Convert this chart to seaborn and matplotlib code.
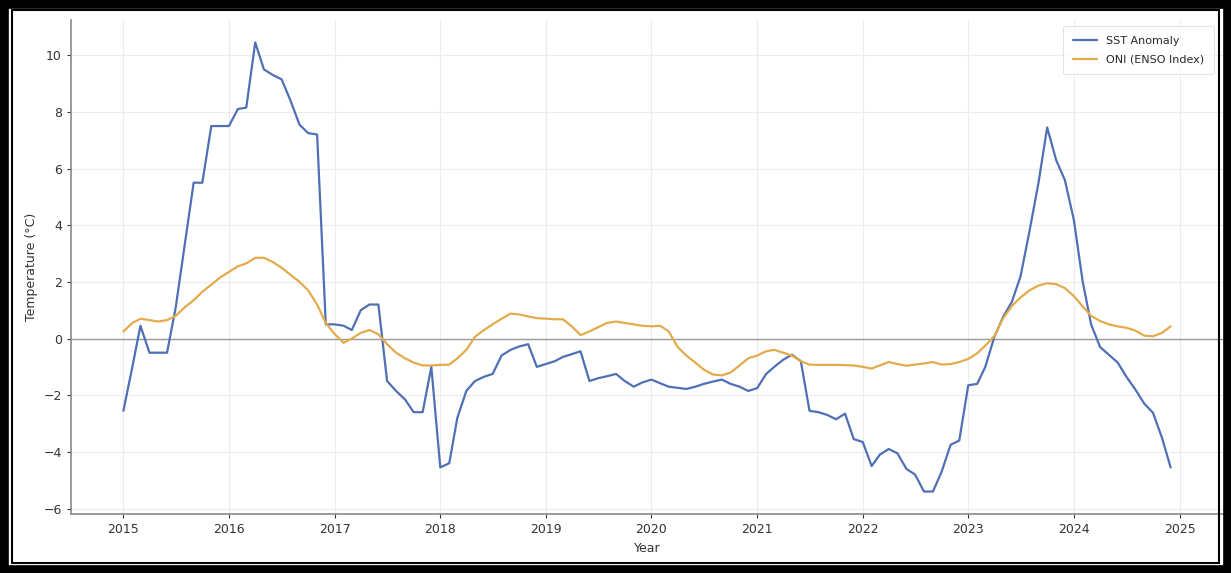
import numpy as np
import pandas as pd
import matplotlib
matplotlib.use("Agg")
import matplotlib.pyplot as plt
import matplotlib.dates as mdates
from matplotlib.patches import Rectangle
import seaborn as sns

# ---- data (monthly, Jan 2015 - Dec 2024) ----
start_month = "2015-01-01"
n_months = 120

sst_anomaly = [
    -2.55, -1.0, 0.45, -0.5, -0.5, -0.5, 1.1, 3.3, 5.5, 5.5, 7.5, 7.5,
    7.5, 8.1, 8.15, 10.45, 9.5, 9.3, 9.15, 8.4, 7.55, 7.25, 7.2, 0.5,
    0.5, 0.45, 0.3, 1.0, 1.2, 1.2, -1.5, -1.85, -2.15, -2.6, -2.6, -1.0,
    -4.55, -4.4, -2.8, -1.85, -1.5, -1.35, -1.25, -0.6, -0.4, -0.28, -0.2, -1.0,
    -0.9, -0.8, -0.65, -0.55, -0.45, -1.5, -1.4, -1.33, -1.25, -1.5, -1.7, -1.55,
    -1.45, -1.58, -1.7, -1.74, -1.78, -1.7, -1.6, -1.52, -1.45, -1.6, -1.7, -1.85,
    -1.75, -1.25, -1.0, -0.75, -0.57, -0.8, -2.55, -2.6, -2.7, -2.85, -2.65, -3.55,
    -3.65, -4.5, -4.1, -3.9, -4.05, -4.6, -4.8, -5.4, -5.4, -4.7, -3.75, -3.6,
    -1.65, -1.6, -1.0, 0.05, 0.75, 1.3, 2.2, 3.8, 5.5, 7.45, 6.3, 5.6,
    4.2, 2.0, 0.5, -0.3, -0.57, -0.85, -1.35, -1.8, -2.3, -2.62, -3.5, -4.55,
]

oni_index = [
    0.25, 0.55, 0.7, 0.65, 0.6, 0.65, 0.8, 1.1, 1.35, 1.65, 1.9, 2.15,
    2.35, 2.55, 2.65, 2.85, 2.85, 2.7, 2.5, 2.25, 2.0, 1.7, 1.2, 0.55,
    0.15, -0.15, 0.0, 0.2, 0.3, 0.15, -0.2, -0.5, -0.7, -0.85, -0.95, -0.95,
    -0.93, -0.92, -0.7, -0.4, 0.06, 0.3, 0.5, 0.7, 0.88, 0.85, 0.78, 0.72,
    0.7, 0.68, 0.68, 0.43, 0.12, 0.25, 0.4, 0.55, 0.6, 0.55, 0.5, 0.45,
    0.43, 0.45, 0.25, -0.3, -0.6, -0.85, -1.1, -1.27, -1.3, -1.2, -0.95, -0.7,
    -0.6, -0.45, -0.4, -0.5, -0.6, -0.8, -0.92, -0.93, -0.93, -0.93, -0.94, -0.95,
    -1.0, -1.06, -0.95, -0.83, -0.9, -0.96, -0.92, -0.88, -0.83, -0.92, -0.9, -0.83,
    -0.72, -0.52, -0.25, 0.08, 0.7, 1.15, 1.45, 1.7, 1.87, 1.95, 1.92, 1.78,
    1.5, 1.13, 0.8, 0.62, 0.5, 0.43, 0.38, 0.28, 0.1, 0.08, 0.2, 0.43,
]

series_names = ["SST Anomaly", "ONI (ENSO Index)"]
series_colors = ["#4f70b5", "#e3ab4c"]

dates = pd.date_range(start_month, periods=n_months, freq="MS")
df = pd.concat([
    pd.DataFrame({"Year": dates, "Value": sst_anomaly, "Series": series_names[0]}),
    pd.DataFrame({"Year": dates, "Value": oni_index, "Series": series_names[1]}),
])

# ---- plot ----
sns.set_style("whitegrid", {"grid.color": "#ececec", "axes.edgecolor": "#8a8a8a"})
plt.rcParams["font.family"] = ["DejaVu Sans"]

fig = plt.figure(figsize=(12.31, 5.73), dpi=100)
ax = fig.add_axes([0.0577, 0.1030, 0.9358, 0.8621])

sns.lineplot(data=df, x="Year", y="Value", hue="Series",
             palette=dict(zip(series_names, series_colors)),
             linewidth=1.6, ax=ax)

ax.axhline(0, color="#9a9a9a", linewidth=1.0, zorder=1)

ax.xaxis.set_major_locator(mdates.YearLocator())
ax.xaxis.set_major_formatter(mdates.DateFormatter("%Y"))
ax.set_yticks([-6, -4, -2, 0, 2, 4, 6, 8, 10])

ax.set_xlabel("Year", fontsize=9, color="#333333")
ax.set_ylabel("Temperature (°C)", fontsize=9, color="#333333")
ax.tick_params(axis="both", labelsize=9, colors="#333333", length=3,
               width=0.8, direction="out", bottom=True, left=True)
for side in ["top", "right"]:
    ax.spines[side].set_visible(False)
for side in ["left", "bottom"]:
    ax.spines[side].set_color("#8a8a8a")
    ax.spines[side].set_linewidth(1.2)

leg = ax.legend(loc="upper right", fontsize=8, frameon=True, title=None,
                handlelength=2.2, borderpad=0.9, labelspacing=0.8,
                bbox_to_anchor=(0.997, 1.0))
leg.get_frame().set_edgecolor("#dddddd")
leg.get_frame().set_linewidth(0.8)

# picture frame: thick outer black border and a thin inner line
fig.patches.append(Rectangle((0, 0), 1, 1, transform=fig.transFigure,
                             fill=False, edgecolor="black", linewidth=12,
                             zorder=10))
fig.patches.append(Rectangle((12 / 1231, 10 / 573), 1 - 24 / 1231, 1 - 20 / 573,
                             transform=fig.transFigure, fill=False,
                             edgecolor="black", linewidth=1.5, zorder=10))

fig.savefig("out.png", dpi=100)
